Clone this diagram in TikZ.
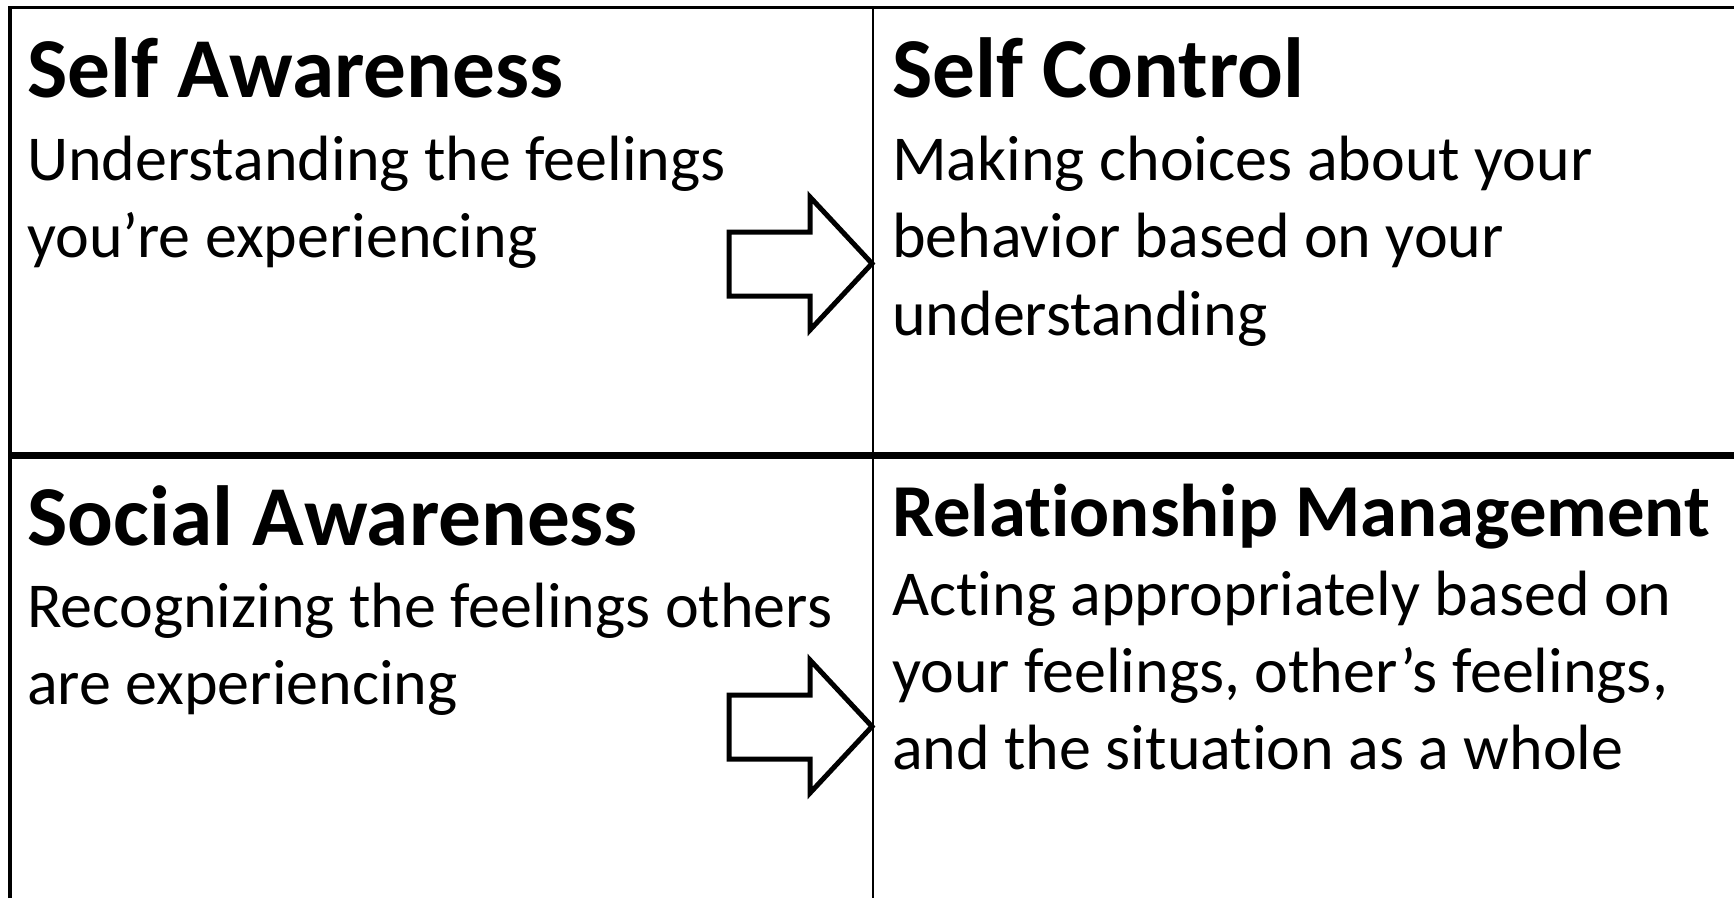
\documentclass[tikz,border=0pt]{standalone}
\usepackage{fontspec}
\setmainfont{Carlito}[Ligatures=NoCommon]
\usetikzlibrary{positioning}

% lines of a cell, first baseline on the node's base
\newcommand{\celltext}[1]{\begin{tabular}[t]{@{}l@{}}#1\end{tabular}}

\tikzset{
  head/.style={anchor=base west, inner sep=0pt, font=\fontsize{85.3}{100}\selectfont\bfseries},
  body/.style={anchor=base west, inner sep=0pt, font=\fontsize{64}{77.4}\selectfont},
  blockarrow/.style={draw, line width=5pt, line join=miter, fill=white},
}

\begin{document}
\begin{tikzpicture}[x=1pt, y=-1pt]
	\useasboundingbox (0,0) rectangle (1734,898);
	% frame and the two dividing lines
	\draw[line width=3.5pt] (10,898) -- (10,7.5) -- (1734,7.5);
	\draw[line width=2.7pt] (873,7.5) -- (873,898);
	\draw[line width=7pt] (10,455) -- (1734,455);

	% block arrows pointing into the right column
	\draw[blockarrow] (729,232) -- (810,232) -- (810,197) -- (872,263.5) -- (810,330) -- (810,296) -- (729,296) -- cycle;
	\draw[blockarrow] (729,695) -- (810,695) -- (810,660) -- (872,726.5) -- (810,793) -- (810,759) -- (729,759) -- cycle;

	\node[head] (selfaware) at (27,97.3) {Self Awareness};
	\node[body] (selfawaretxt) at ([yshift=-83]selfaware.base west) {\celltext{Understanding the feelings\\you’re experiencing}};

	\node[head] (selfctrl) at (892,97.3) {Self Control};
	\node[body] (selfctrltxt) at ([yshift=-83]selfctrl.base west) {\celltext{Making choices about your\\behavior based on your\\understanding}};

	\node[head] (socialaware) at (27,545) {Social Awareness};
	\node[body] (socialawaretxt) at ([yshift=-82.5]socialaware.base west) {\celltext{Recognizing the feelings others\\are experiencing}};

	\node[head, font=\fontsize{74.7}{88}\selectfont\bfseries] (relmgmt) at (892,536.7) {Relationship Management};
	\node[body] (relmgmttxt) at ([yshift=-78.3]relmgmt.base west) {\celltext{Acting appropriately based on\\your feelings, other’s feelings,\\and the situation as a whole}};
\end{tikzpicture}
\end{document}
